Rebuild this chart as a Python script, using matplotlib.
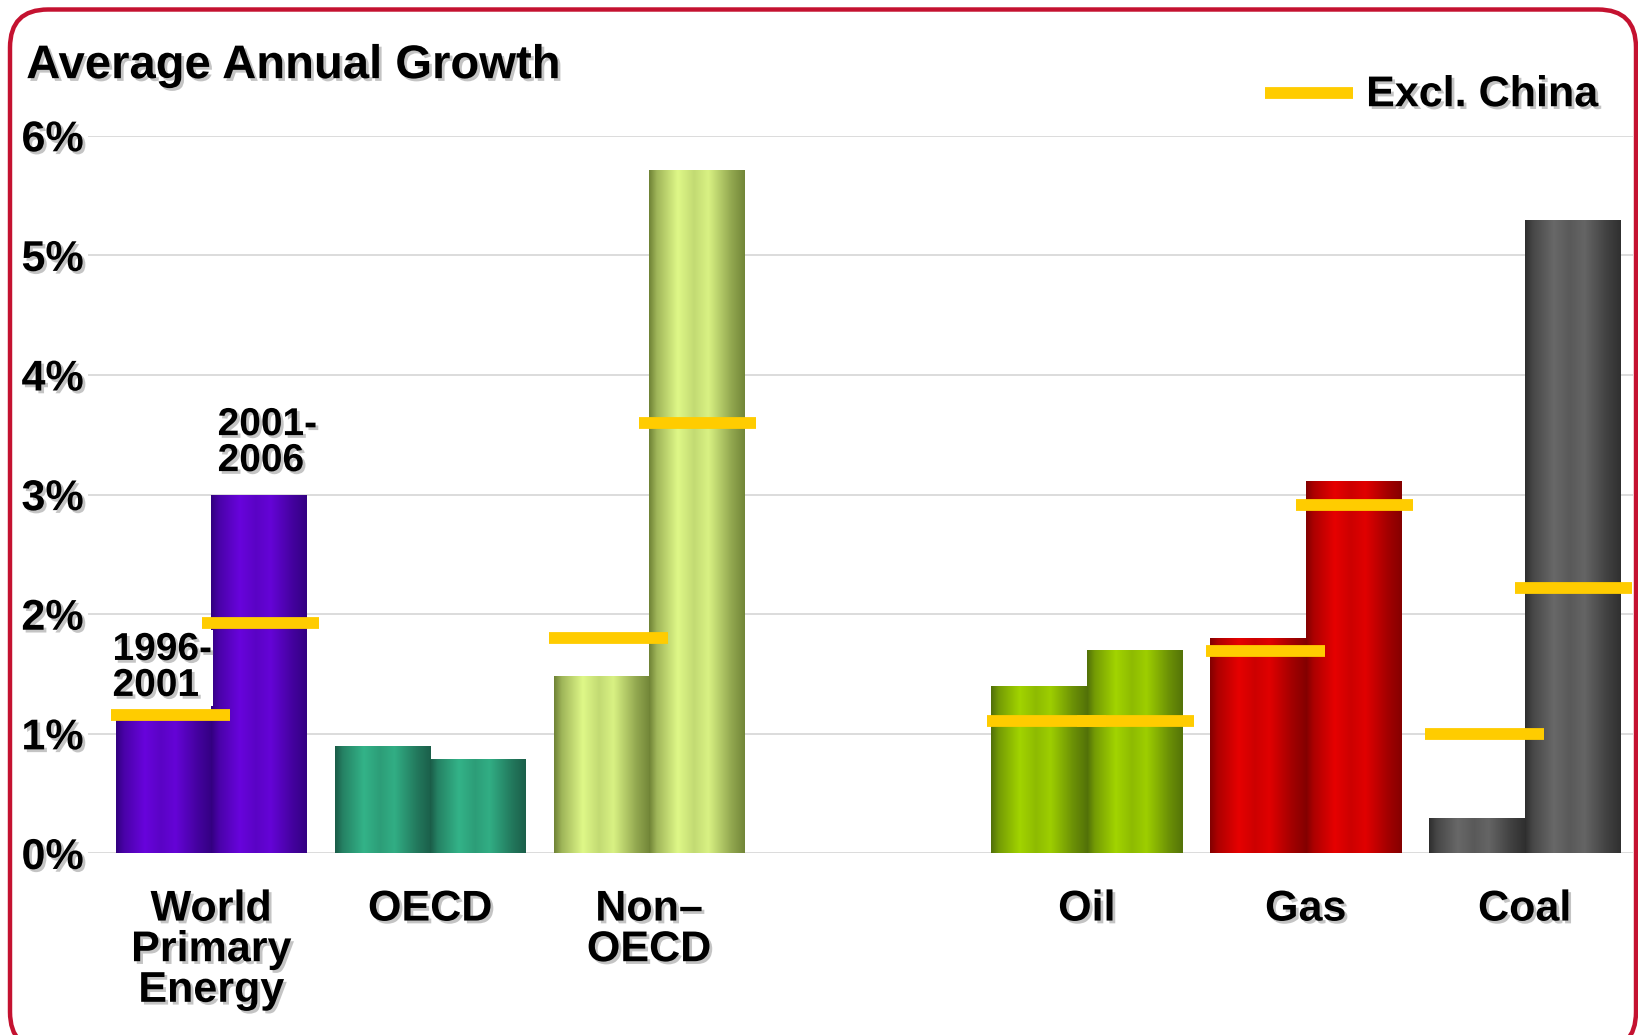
import numpy as np
import matplotlib
matplotlib.use("Agg")
import matplotlib.pyplot as plt
from matplotlib import patheffects as pe
from matplotlib.patches import FancyBboxPatch
from matplotlib.colors import to_rgb

# ---------------- data ----------------
categories = ["World\nPrimary\nEnergy", "OECD", "Non\u2013\nOECD", "Oil", "Gas", "Coal"]
growth_1996_2001 = [1.15, 0.90, 1.48, 1.40, 1.80, 0.30]
growth_2001_2006 = [3.00, 0.79, 5.71, 1.70, 3.11, 5.30]
excl_china_1996_2001 = [1.16, np.nan, 1.80, 1.11, 1.69, 1.00]
excl_china_2001_2006 = [1.93, np.nan, 3.60, 1.11, 2.91, 2.22]
ytick_values = [0, 1, 2, 3, 4, 5, 6]
ytick_labels = ["0%", "1%", "2%", "3%", "4%", "5%", "6%"]
period_labels = ["1996-\n2001", "2001-\n2006"]
legend_label = "Excl. China"
title = "Average Annual Growth"

# ---------------- style ----------------
bar_colors = [  # (dark, light)
    ("#2a0072", "#6804dc"),
    ("#17503f", "#33b388"),
    ("#5f722a", "#dff888"),
    ("#46620a", "#a2d400"),
    ("#740000", "#e60000"),
    ("#262626", "#686868"),
]
YELLOW = "#ffcc00"
RED = "#c41230"
FONT = "Liberation Sans"

W, H = 1638, 1035
fig = plt.figure(figsize=(W / 100, H / 100), dpi=100)
fig.patch.set_facecolor("white")

ax = fig.add_axes([0.0536, 0.1754, 0.9434, 0.6934])
ax.set_facecolor("white")
for s in ax.spines.values():
    s.set_visible(False)

n = len(categories)
idx = np.arange(n)
pos = idx + (idx >= 3)          # empty slot between regions and fuels
bw = 0.435

shadow = [pe.withSimplePatchShadow(offset=(2, -2), shadow_rgbFace="#8a8a8a", alpha=0.5)]

# cylindrical shading profile
t = np.linspace(0, 1, 200)
prof = np.interp(t, [0, 0.08, 0.3, 0.47, 0.62, 0.86, 1.0],
                 [0.12, 0.5, 1.0, 0.78, 0.95, 0.4, 0.15])


def grad_img(dark, light):
    d = np.array(to_rgb(dark))
    l = np.array(to_rgb(light))
    row = d[None, :] + (l - d)[None, :] * prof[:, None]
    return row[None, :, :]


def shade(bars, z):
    for rect, (dk, lt) in zip(bars, bar_colors):
        x0, y0 = rect.get_xy()
        w, h = rect.get_width(), rect.get_height()
        im = ax.imshow(grad_img(dk, lt), extent=[x0, x0 + w, y0, y0 + h],
                       aspect="auto", interpolation="bilinear", zorder=z + 0.1)
        im.set_clip_path(rect)


b1 = ax.bar(pos - bw / 2, growth_1996_2001, width=bw,
            color=[c[0] for c in bar_colors], zorder=2, linewidth=0)
shade(b1, 2)
b2 = ax.bar(pos + bw / 2, growth_2001_2006, width=bw,
            color=[c[0] for c in bar_colors], zorder=3, linewidth=0)
shade(b2, 3)

# Excl. China markers
for p, v in zip(pos - bw / 2, excl_china_1996_2001):
    if not np.isnan(v):
        ax.hlines(v, p - bw * 0.55, p + bw * 0.7, color=YELLOW, lw=8.5, zorder=5,
                  capstyle="butt")
for p, v in zip(pos + bw / 2, excl_china_2001_2006):
    if not np.isnan(v):
        ax.hlines(v, p - bw * 0.6, p + bw * 0.63, color=YELLOW, lw=8.5, zorder=5,
                  capstyle="butt")

ax.set_xlim(-0.563, 6.496)
ax.set_ylim(0, 6)

ax.set_yticks(ytick_values)
ax.set_yticklabels(ytick_labels, fontsize=31, fontweight="bold", family=FONT)
ax.set_xticks(pos)
ax.set_xticklabels(categories, fontsize=31, fontweight="bold", family=FONT,
                   linespacing=1.02, va="top")
ax.tick_params(axis="y", length=0, pad=3)
ax.tick_params(axis="x", length=0, pad=26)
for lab in ax.get_yticklabels() + ax.get_xticklabels():
    lab.set_path_effects(shadow)

ax.grid(axis="y", color="#d6d6d6", lw=1.2, zorder=0)
ax.set_axisbelow(True)

# period annotations
ax.text(pos[0] - bw - 0.015, 1.25, period_labels[0], fontsize=28, fontweight="bold",
        family=FONT, ha="left", va="bottom", linespacing=1.0, zorder=6,
        path_effects=shadow,
        bbox=dict(facecolor="white", edgecolor="none", pad=1))
ax.text(pos[0] + 0.03, 3.13, period_labels[1], fontsize=28, fontweight="bold",
        family=FONT, ha="left", va="bottom", linespacing=1.0, zorder=6,
        path_effects=shadow,
        bbox=dict(facecolor="white", edgecolor="none", pad=1))

# title
fig.text(0.016, 0.9245, title, fontsize=34, fontweight="bold", family=FONT,
         ha="left", va="baseline", path_effects=shadow)

# legend
fig.add_artist(plt.Line2D([0.772, 0.826], [0.910, 0.910], transform=fig.transFigure,
                          color=YELLOW, lw=8.5, solid_capstyle="butt"))
fig.text(0.834, 0.908, legend_label, fontsize=31, fontweight="bold", family=FONT,
         ha="left", va="center", path_effects=shadow)

# red rounded frame
frame = FancyBboxPatch((0.10, -0.15), 16.26, 10.255 + 0.15,
                       boxstyle="round,pad=0,rounding_size=0.38",
                       transform=fig.dpi_scale_trans, facecolor="none",
                       edgecolor=RED, lw=3.2, zorder=10)
fig.add_artist(frame)

fig.savefig("out.png", dpi=100)
